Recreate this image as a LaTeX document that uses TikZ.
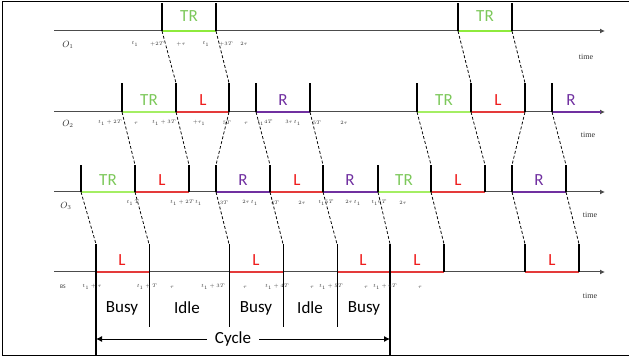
\documentclass[tikz,border=0pt]{standalone}
\usepackage{fontspec}
\setmainfont{Carlito}
\newfontfamily\serifft{Liberation Serif}
\usetikzlibrary{arrows.meta}
\definecolor{trtxt}{HTML}{7CC85A}
\definecolor{trline}{HTML}{8EEA3C}
\definecolor{lred}{HTML}{EE1C1C}
\definecolor{lline}{HTML}{E43A3A}
\definecolor{rpur}{HTML}{7030A0}
\tikzset{
  axisline/.style={draw=black!70, line width=1pt, -{Latex[length=5pt,width=5pt]}},
  tickline/.style={line width=1.8pt},
  thinline/.style={line width=0.9pt},
  seg/.style={line width=1.6pt},
  conn/.style={dash pattern=on 3pt off 2pt, line width=0.75pt},
  big/.style={font=\fontsize{17}{17}\selectfont, inner sep=0pt},
  tiny/.style={font=\fontsize{5.5}{6}\selectfont, inner sep=0pt, text=black!80},
  rowlab/.style={font=\fontsize{9}{9}\selectfont, inner sep=0pt, text=black!80},
  timelab/.style={font=\serifft\fontsize{8}{8}\selectfont, inner sep=0pt, text=black!80},
}
\begin{document}
\begin{tikzpicture}[x=1pt,y=-1pt]
\useasboundingbox (0,0) rectangle (629,363);
% frame
\draw[line width=1pt] (629,2) -- (2,2) -- (2,355) -- (629,355);

% coordinates: axis points and tick tops
\foreach \x in {162,216,458,512} {\coordinate (a1x\x) at (\x,31); \coordinate (t1x\x) at (\x,3);}
\foreach \x in {122,176,229,256,310,417,471,525,552} {\coordinate (a2x\x) at (\x,112); \coordinate (t2x\x) at (\x,83);}
\foreach \x in {81,135,189,216,270,323,378,431,485,512,566} {\coordinate (a3x\x) at (\x,192); \coordinate (t3x\x) at (\x,165);}
\foreach \x in {96,149,229,283,337,390,444,525,579} {\coordinate (a4x\x) at (\x,272); \coordinate (t4x\x) at (\x,244);}
\foreach \r/\y in {1/31,2/112,3/192,4/272} {\coordinate (s\r) at (54,\y); \coordinate (e\r) at (605,\y);}

% axes
\foreach \r in {1,2,3,4} {\draw[axisline] (s\r) -- (e\r);}

% row 1 segments
\draw[seg, trline] (a1x162) -- (a1x216);
\draw[seg, trline] (a1x458) -- (a1x512);
% row 2 segments
\draw[seg, trline!80!white] (a2x122) -- (a2x176);
\draw[seg, lline] (a2x176) -- (a2x229);
\draw[seg, rpur] (a2x256) -- (a2x310);
\draw[seg, trline!80!white] (a2x417) -- (a2x471);
\draw[seg, lline] (a2x471) -- (a2x525);
\draw[seg, rpur] (a2x552) -- ([xshift=-4pt]e2);
% row 3 segments
\draw[seg, trline!80!white] (a3x81) -- (a3x135);
\draw[seg, lline] (a3x135) -- (a3x189);
\draw[seg, rpur] (a3x216) -- (a3x270);
\draw[seg, lline] (a3x270) -- (a3x323);
\draw[seg, rpur] (a3x323) -- (a3x378);
\draw[seg, trline!80!white] (a3x378) -- (a3x431);
\draw[seg, lline] (a3x431) -- (a3x485);
\draw[seg, rpur] (a3x512) -- (a3x566);
% row 4 segments
\draw[seg, lline] (a4x96) -- (a4x149);
\draw[seg, lline] (a4x229) -- (a4x283);
\draw[seg, lline] (a4x337) -- (a4x444);
\draw[seg, lline] (a4x525) -- (a4x579);

% ticks
\foreach \x in {162,216,458,512} {\draw[tickline] (a1x\x) -- (t1x\x);}
\foreach \x in {122,176,229,256,310,417,471,525,552} {\draw[tickline] (a2x\x) -- (t2x\x);}
\foreach \x in {81,135,189,216,270,323,378,431,485,512,566} {\draw[tickline] (a3x\x) -- (t3x\x);}
\foreach \x in {444,525,579} {\draw[tickline] (a4x\x) -- (t4x\x);}
\coordinate (b96) at (96,355); \coordinate (b390) at (390,355);
\draw[tickline] (t4x96) -- (b96);
\draw[tickline] (t4x390) -- (b390);
\foreach \x in {149,229,283,337} {\coordinate (b\x) at (\x,327); \draw[thinline] (t4x\x) -- (b\x);}

% dashed connectors
\foreach \u/\v in {162/176,216/229,458/471,512/525} {\draw[conn] (a1x\u) -- (t2x\v);}
\foreach \u/\v in {122/135,176/189,229/216,256/270,310/323,417/431,471/485,525/512,552/566} {\draw[conn] (a2x\u) -- (t3x\v);}
\foreach \u/\v in {81/96,135/149,216/229,270/283,323/337,378/390,431/444,512/525,566/579} {\draw[conn] (a3x\u) -- (t4x\v);}

% segment labels
\node[big, text=trtxt] (l1a) at (189,16) {TR};
\node[big, text=trtxt] (l1b) at (485,16) {TR};
\node[big, text=trtxt] (l2a) at (149,100) {TR};
\node[big, text=lred] (l2b) at (203,100) {L};
\node[big, text=rpur] (l2c) at (283,100) {R};
\node[big, text=trtxt] (l2d) at (444,100) {TR};
\node[big, text=lred] (l2e) at (498,100) {L};
\node[big, text=rpur] (l2f) at (571,100) {R};
\node[big, text=trtxt] (l3a) at (108,180) {TR};
\node[big, text=lred] (l3b) at (162,180) {L};
\node[big, text=rpur] (l3c) at (243,180) {R};
\node[big, text=lred] (l3d) at (297,180) {L};
\node[big, text=rpur] (l3e) at (350,180) {R};
\node[big, text=trtxt] (l3f) at (404,180) {TR};
\node[big, text=lred] (l3g) at (458,180) {L};
\node[big, text=rpur] (l3h) at (539,180) {R};
\node[big, text=lred] (l4a) at (122,260) {L};
\node[big, text=lred] (l4b) at (256,260) {L};
\node[big, text=lred] (l4c) at (363,260) {L};
\node[big, text=lred] (l4d) at (417,260) {L};
\node[big, text=lred] (l4e) at (552,260) {L};

% time labels
\node[timelab] (tm1) at (586,57) {time};
\node[timelab] (tm2) at (588,135) {time};
\node[timelab] (tm3) at (590,215) {time};
\node[timelab] (tm4) at (590,296) {time};

% row labels
\node[rowlab] (o1) at (68,45) {$O_1$};
\node[rowlab] (o2) at (68,124) {$O_2$};
\node[rowlab] (o3) at (66,206) {$O_3$};
\node[tiny] (bs) at (63,287) {BS};

% small time-instant labels
\foreach \x/\t [count=\i] in {135/{$t_1$},157/{$+2T$},181/{$+\tau$},206/{$t_1$},226/{$+3T$},244/{$2\tau$}}
  {\node[tiny] (p1-\i) at (\x,44) {\t};}
\foreach \x/\t [count=\i] in {110/{$t_1+2T$},136/{$\tau$},164/{$t_1+3T$},199/{$+\tau_1$},227/{$5T$},246/{$\tau$},265/{$t_1 4T$},293/{$3\tau\ t_1$},317/{$5T$},344/{$2\tau$}}
  {\node[tiny] (p2-\i) at (\x,123) {\t};}
\foreach \x/\t [count=\i] in {133/{$t_1\ T$},186/{$t_1+2T\ t_1$},224/{$3T$},250/{$2\tau\ t_1$},275/{$4T$},302/{$2\tau$},326/{$t_1 5T$},353/{$2\tau\ t_1$},379/{$t_1 6T$},403/{$2\tau$}}
  {\node[tiny] (p3-\i) at (\x,203) {\t};}
\foreach \x/\t [count=\i] in {92/{$t_1+\tau$},147/{$t_1+T$},172/{$\tau$},213/{$t_1+3T$},245/{$\tau$},277/{$t_1+4T$},312/{$\tau$},331/{$t_1+5T$},366/{$\tau$},385/{$t_1+6T$},420/{$\tau$}}
  {\node[tiny] (p4-\i) at (\x,287) {\t};}

% busy / idle
\node[big] (bz1) at (122,308) {Busy};
\node[big] (id1) at (187,308) {Idle};
\node[big] (bz2) at (256,308) {Busy};
\node[big] (id2) at (310,308) {Idle};
\node[big] (bz3) at (364,308) {Busy};

% cycle
\node[big] (cyc) at (233,339) {Cycle};
\coordinate (cL) at (96,339); \coordinate (cR) at (390,339);
\draw[line width=0.9pt, -{Latex[length=6pt,width=6pt]}] ([xshift=-8pt]cyc.west) -- (cL);
\draw[line width=0.9pt, -{Latex[length=6pt,width=6pt]}] ([xshift=8pt]cyc.east) -- (cR);
\end{tikzpicture}
\end{document}
